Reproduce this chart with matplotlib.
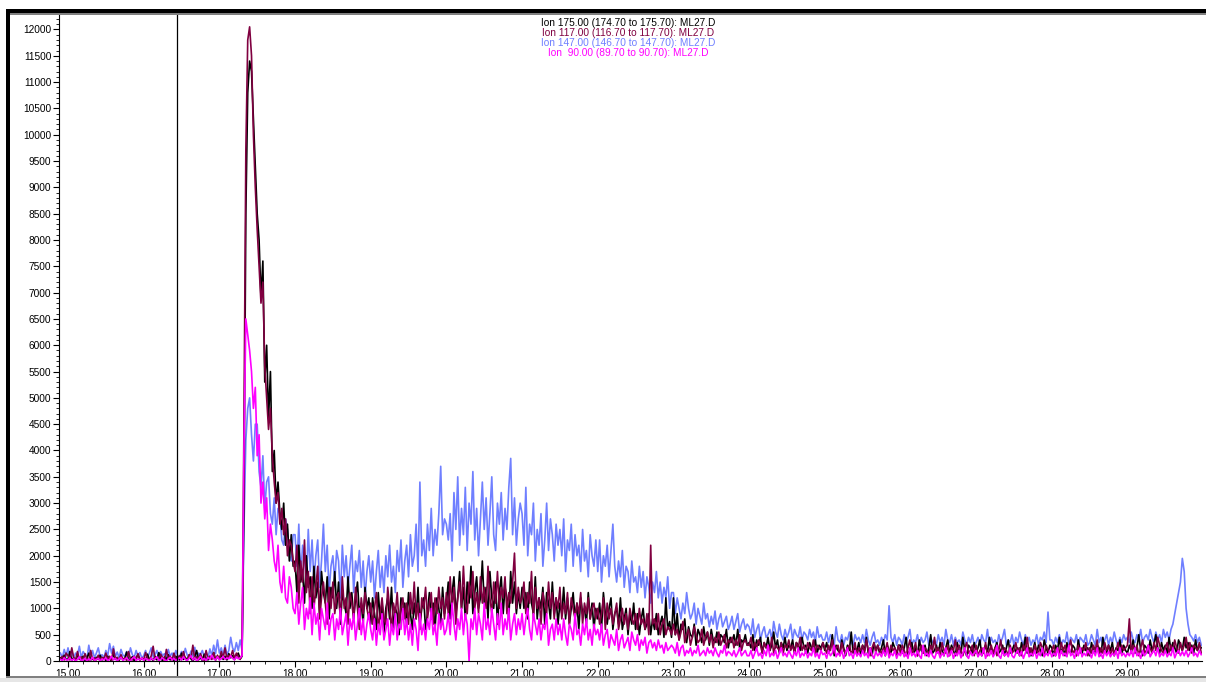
import matplotlib
matplotlib.use("Agg")
import matplotlib.pyplot as plt
import numpy as np
from matplotlib.patches import Rectangle
from matplotlib.ticker import MultipleLocator, FormatStrFormatter

plt.rcParams['font.family'] = ['Liberation Sans', 'DejaVu Sans']

# scan grid: first scan time and spacing (minutes)
scan_start = 14.90
scan_step = 0.025

# abundances, one row per minute (14.90-14.975 row first)
ion175 = [
    60, 20, 110, 30,
    30, 180, 10, 60, 0, 120, 40, 20, 90, 10, 50, 150, 20, 40, 10, 70, 30, 110, 20, 60, 10, 90, 40, 0, 140, 30, 60, 10, 100, 20, 50, 170, 10, 40, 80, 0, 60, 120, 30, 50,
    40, 10, 130, 30, 60, 0, 90, 20, 160, 40, 10, 80, 30, 120, 20, 50, 10, 90, 40, 20, 150, 30, 70, 10, 110, 40, 0, 80, 200, 30, 60, 10, 130, 50, 20, 90, 40, 160, 20, 70,
    50, 120, 30, 90, 20, 140, 60, 100, 30, 80, 150, 40, 90, 3000, 8500, 10800, 11400, 11200, 10300, 9400, 8500, 8000, 6900, 7600, 5300, 6000, 4600, 5500, 3600, 4000, 3000, 3400, 2800, 2500, 3000, 2200, 2600, 1900, 2400, 1800,
    1900, 1300, 2200, 1500, 1700, 1100, 2000, 1400, 1600, 1000, 1800, 1200, 1500, 900, 1700, 1300, 1100, 1600, 800, 1400, 1200, 1700, 1000, 1500, 700, 1300, 1100, 900, 1600, 1000, 1300, 800, 1200, 1500, 900, 1100, 700, 1400, 1000, 1200,
    700, 1200, 900, 600, 1300, 800, 1100, 500, 1000, 1200, 800, 1400, 600, 1000, 900, 500, 1200, 800, 1100, 700, 1300, 900, 600, 1100, 800, 1400, 700, 1000, 1200, 600, 900, 1300, 800, 1100, 600, 1200, 1000, 700, 1400, 900,
    1100, 1500, 800, 1300, 1600, 900, 1200, 1700, 1000, 1400, 800, 1500, 1100, 1800, 900, 1300, 1600, 1000, 1200, 1900, 1100, 1400, 800, 1700, 1200, 1000, 1500, 700, 1300, 1600, 900, 1400, 1200, 800, 1700, 1100, 1500, 900, 1300, 1000,
    1400, 1000, 1300, 800, 1500, 1100, 900, 1600, 800, 1200, 1000, 1400, 700, 1300, 1100, 800, 1500, 900, 1200, 700, 1100, 900, 1400, 800, 1200, 700, 1000, 1300, 800, 1100, 600, 1200, 900, 1000, 700, 1300, 800, 1100, 600, 1000,
    800, 1100, 600, 1300, 900, 700, 1000, 1200, 600, 900, 1000, 700, 1200, 600, 800, 1000, 500, 900, 700, 1100, 600, 900, 500, 800, 1000, 600, 700, 900, 500, 800, 600, 900, 500, 700, 850, 450, 1200, 600, 750, 450,
    1200, 500, 900, 400, 700, 600, 800, 350, 650, 500, 450, 700, 300, 600, 500, 350, 650, 400, 550, 300, 600, 400, 350, 550, 300, 500, 450, 350, 600, 250, 450, 350, 500, 300, 600, 250, 400, 350, 500, 300,
    350, 250, 500, 200, 400, 300, 450, 150, 350, 250, 450, 200, 300, 550, 250, 400, 150, 350, 250, 450, 200, 300, 250, 400, 150, 350, 300, 200, 450, 250, 300, 150, 350, 250, 200, 400, 150, 300, 250, 350,
    200, 350, 150, 250, 500, 100, 300, 200, 150, 400, 250, 100, 300, 200, 550, 150, 250, 200, 350, 100, 300, 200, 450, 150, 250, 100, 350, 200, 300, 150, 250, 400, 100, 300, 200, 150, 350, 250, 100, 300,
    300, 150, 250, 450, 100, 200, 350, 150, 250, 100, 400, 200, 150, 300, 100, 250, 500, 150, 200, 300, 150, 350, 200, 100, 250, 400, 150, 300, 200, 100, 350, 200, 150, 450, 200, 100, 300, 250, 150, 350,
    150, 250, 400, 100, 200, 300, 150, 450, 200, 100, 250, 350, 150, 200, 300, 100, 250, 400, 150, 200, 300, 150, 250, 100, 350, 200, 450, 150, 250, 100, 200, 350, 150, 300, 200, 100, 400, 250, 150, 300,
    250, 100, 300, 200, 450, 150, 250, 100, 350, 200, 150, 300, 250, 100, 400, 200, 150, 300, 200, 250, 100, 350, 200, 150, 300, 250, 100, 450, 200, 150, 300, 200, 350, 100, 250, 200, 400, 150, 300, 200,
    150, 300, 200, 400, 150, 250, 500, 200, 100, 300, 250, 150, 400, 200, 300, 500, 250, 150, 350, 200, 300, 150, 450, 200, 350, 250, 150, 400, 300, 200, 450, 250, 350, 200, 300, 150, 400, 200, 300, 250,
]

ion117 = [
    40, 90, 20, 150,
    100, 20, 250, 60, 10, 180, 30, 80, 20, 140, 40, 10, 200, 30, 60, 20, 110, 10, 70, 40, 150, 20, 90, 10, 230, 40, 70, 20, 120, 30, 60, 10, 180, 40, 20, 90, 30, 140, 10, 60,
    20, 160, 50, 10, 100, 280, 30, 70, 20, 130, 60, 10, 220, 40, 90, 20, 150, 30, 60, 100, 20, 180, 40, 10, 120, 60, 300, 30, 80, 20, 140, 50, 10, 200, 40, 90, 30, 160, 20, 110,
    30, 180, 60, 250, 40, 110, 80, 200, 50, 150, 90, 30, 120, 4500, 9700, 11800, 12050, 11500, 10000, 9000, 8200, 7500, 6800, 7200, 5600, 5000, 4400, 4800, 3900, 3400, 3000, 3200, 2600, 2900, 2400, 2700, 2000, 2300, 2200, 1900,
    1700, 2200, 1100, 1900, 1500, 2300, 1300, 1700, 900, 1600, 1000, 1400, 1800, 800, 1200, 1500, 1100, 700, 1400, 1000, 1500, 900, 1200, 1300, 800, 1600, 1000, 1200, 700, 1300, 1100, 800, 1400, 1000, 600, 1200, 900, 1300, 1000, 800,
    1100, 700, 1000, 1300, 600, 900, 1200, 800, 700, 1400, 1000, 600, 1100, 900, 1300, 700, 1000, 1200, 800, 1100, 700, 1300, 900, 1500, 800, 1100, 600, 1200, 1000, 1400, 800, 1100, 1300, 700, 1200, 900, 1400, 1000, 1200, 800,
    1300, 900, 1600, 1000, 1400, 700, 1200, 1500, 1000, 1800, 1100, 900, 1500, 1200, 1700, 1000, 1300, 900, 1600, 1100, 1400, 1000, 1800, 1200, 900, 1500, 1100, 1700, 1000, 1400, 1200, 1600, 900, 1300, 1100, 1500, 2050, 1000, 1400, 1100,
    1200, 1500, 900, 1300, 1100, 1700, 800, 1400, 1000, 1200, 700, 1300, 1100, 900, 1500, 1000, 1300, 800, 1200, 1000, 1400, 800, 1100, 900, 1300, 700, 1200, 1000, 800, 1100, 900, 1300, 700, 1100, 900, 1200, 800, 1000, 1100, 800,
    1000, 700, 900, 1200, 600, 1100, 800, 1000, 700, 900, 1100, 600, 800, 1000, 700, 900, 600, 1000, 800, 700, 900, 600, 1000, 700, 800, 600, 900, 500, 2200, 700, 800, 600, 900, 500, 700, 800, 500, 650, 600, 500,
    700, 500, 600, 400, 550, 750, 350, 500, 600, 300, 450, 650, 500, 350, 400, 600, 300, 450, 550, 350, 500, 250, 450, 350, 550, 300, 400, 500, 250, 400, 350, 450, 250, 400, 300, 500, 200, 350, 400, 300,
    300, 450, 200, 350, 250, 400, 300, 150, 350, 250, 300, 200, 450, 150, 300, 250, 200, 350, 150, 300, 250, 400, 200, 300, 150, 350, 250, 450, 200, 300, 150, 350, 250, 200, 400, 150, 300, 250, 200, 350,
    250, 150, 300, 200, 400, 150, 250, 300, 100, 350, 200, 150, 250, 300, 150, 200, 350, 100, 250, 200, 300, 150, 400, 200, 100, 250, 350, 150, 300, 200, 150, 250, 200, 350, 100, 300, 200, 250, 150, 300,
    150, 300, 200, 100, 250, 400, 150, 200, 350, 100, 200, 300, 150, 250, 200, 100, 300, 200, 450, 150, 250, 100, 350, 200, 150, 300, 100, 250, 200, 400, 150, 300, 200, 100, 250, 350, 150, 200, 300, 100,
    300, 100, 200, 250, 150, 350, 100, 200, 300, 150, 250, 100, 200, 400, 150, 250, 200, 100, 300, 150, 200, 350, 150, 250, 100, 300, 200, 450, 150, 250, 100, 300, 200, 150, 350, 250, 100, 300, 200, 150,
    200, 300, 100, 250, 150, 350, 200, 300, 100, 250, 400, 150, 200, 100, 300, 150, 250, 200, 350, 100, 250, 150, 300, 200, 400, 100, 250, 150, 350, 200, 300, 100, 250, 150, 200, 350, 150, 300, 200, 250,
    300, 800, 150, 300, 200, 300, 100, 250, 400, 150, 200, 300, 250, 150, 350, 200, 450, 300, 200, 150, 250, 350, 150, 300, 200, 400, 250, 150, 350, 200, 300, 450, 200, 350, 150, 300, 250, 200, 350, 150,
]

ion147 = [
    150, 60, 220, 90,
    250, 80, 200, 50, 150, 100, 280, 60, 180, 120, 50, 300, 90, 200, 60, 150, 250, 80, 120, 60, 200, 100, 330, 150, 280, 80, 170, 60, 220, 110, 90, 180, 60, 250, 120, 70, 200, 90, 160, 60,
    100, 200, 60, 150, 250, 80, 120, 200, 50, 180, 100, 140, 60, 220, 90, 150, 60, 200, 100, 80, 180, 60, 240, 110, 70, 190, 90, 260, 60, 150, 120, 200, 80, 170, 60, 230, 100, 300, 140, 400,
    150, 250, 100, 300, 120, 200, 450, 250, 180, 350, 200, 400, 200, 2500, 4200, 4800, 5000, 4300, 3800, 4500, 4500, 3600, 3300, 3900, 2900, 3400, 3500, 2800, 2600, 3100, 2400, 2900, 2800, 2300, 2200, 2700, 2500, 2000, 1900, 2400,
    2400, 1800, 2600, 1600, 2200, 2000, 1500, 2500, 1700, 2300, 1500, 2000, 2300, 1400, 1900, 2600, 1700, 2200, 1300, 1800, 2000, 1500, 2100, 1900, 1200, 2200, 1600, 2000, 1400, 1800, 2200, 1300, 1900, 1700, 2100, 1400, 1900, 1200, 1700, 2000,
    1500, 1900, 1200, 1700, 2100, 1400, 1800, 1300, 2000, 1600, 2200, 1500, 1800, 1300, 2100, 1700, 2300, 1400, 1900, 2200, 1600, 2400, 1800, 2000, 2600, 1700, 3400, 2000, 2300, 1800, 2600, 2100, 2900, 2000, 2500, 2200, 2800, 3700, 2400, 2700,
    2600, 2300, 2800, 1900, 3200, 2500, 3500, 2200, 2900, 2400, 3300, 2100, 3000, 2600, 3600, 2300, 2900, 2000, 2700, 3400, 2500, 3100, 2200, 2800, 3500, 2400, 2100, 3000, 2600, 3200, 2300, 2900, 2500, 3300, 3850, 2400, 3100, 2200, 2700, 3000,
    2800, 2200, 3300, 2000, 2600, 2400, 3000, 1900, 2500, 2200, 2800, 1800, 2300, 3000, 2100, 2700, 2400, 1900, 2600, 2200, 2500, 2000, 2700, 1700, 2300, 2100, 2600, 1800, 2400, 2000, 2200, 1700, 2500, 1900, 2100, 1600, 2400, 2000, 1800, 2300,
    1700, 2300, 1500, 2000, 1800, 2200, 1600, 2100, 2600, 1800, 1500, 1900, 1600, 2100, 1400, 1800, 1700, 1300, 1900, 1500, 1600, 1300, 1800, 1400, 1700, 1200, 1600, 1400, 1100, 1500, 1300, 1700, 1200, 1500, 1100, 1400, 1200, 1600, 1000, 1300,
    1300, 900, 1200, 1000, 800, 1100, 900, 1300, 1000, 800, 900, 1100, 700, 1000, 850, 700, 1100, 800, 900, 650, 850, 700, 950, 600, 800, 900, 650, 750, 850, 600, 700, 850, 600, 750, 900, 550, 700, 800, 600, 700,
    650, 500, 800, 450, 600, 700, 400, 550, 650, 450, 500, 600, 400, 750, 550, 450, 700, 500, 400, 600, 450, 550, 700, 400, 600, 500, 450, 650, 400, 550, 500, 400, 600, 450, 550, 350, 650, 450, 500, 400,
    400, 550, 350, 500, 450, 300, 650, 400, 350, 500, 300, 450, 400, 550, 350, 300, 500, 400, 450, 350, 500, 350, 600, 400, 300, 450, 550, 350, 400, 300, 450, 350, 500, 400, 1050, 450, 350, 500, 300, 450,
    400, 300, 500, 350, 450, 600, 300, 400, 350, 500, 300, 450, 350, 400, 550, 300, 450, 350, 400, 300, 500, 350, 450, 300, 600, 400, 350, 500, 300, 450, 350, 400, 300, 550, 400, 300, 450, 350, 500, 300,
    350, 450, 300, 500, 400, 350, 600, 300, 450, 350, 400, 300, 500, 350, 450, 600, 300, 400, 350, 500, 300, 450, 350, 550, 400, 300, 500, 350, 450, 300, 400, 350, 500, 300, 450, 400, 550, 350, 930, 400,
    400, 300, 450, 350, 500, 300, 400, 350, 550, 300, 450, 400, 350, 500, 300, 450, 400, 350, 500, 300, 350, 500, 400, 300, 600, 350, 450, 300, 400, 500, 300, 450, 350, 550, 400, 300, 450, 350, 500, 400,
    450, 350, 550, 400, 350, 500, 400, 600, 350, 450, 500, 400, 600, 450, 350, 550, 400, 500, 350, 600, 450, 550, 400, 600, 700, 900, 1100, 1300, 1500, 1950, 1700, 1000, 700, 500, 450, 380, 500, 350, 450, 300,
]

ion90 = [
    30, 10, 60, 20,
    20, 60, 10, 40, 0, 30, 80, 10, 20, 50, 0, 40, 20, 70, 10, 30, 50, 0, 40, 20, 60, 10, 30, 90, 20, 50, 0, 40, 70, 10, 30, 60, 20, 0, 50, 80, 10, 40, 20, 60,
    10, 50, 30, 0, 60, 20, 40, 80, 10, 30, 60, 20, 0, 40, 70, 20, 50, 10, 30, 60, 20, 80, 30, 10, 50, 100, 20, 60, 0, 40, 90, 20, 50, 10, 70, 30, 110, 40, 20, 80,
    20, 40, 90, 30, 60, 40, 100, 50, 20, 80, 40, 60, 100, 4000, 6500, 6200, 5900, 5500, 4800, 5200, 3900, 4300, 3000, 3400, 2700, 3100, 2100, 2600, 2300, 1900, 1700, 2200, 1500, 1300, 1800, 1200, 1100, 1600, 1400, 1000,
    900, 1300, 700, 1100, 1400, 600, 1000, 800, 1200, 500, 1100, 700, 900, 400, 1000, 800, 600, 1100, 500, 800, 900, 400, 800, 600, 1000, 500, 700, 900, 300, 800, 600, 900, 400, 700, 1000, 500, 800, 400, 700, 900,
    600, 400, 800, 300, 700, 500, 900, 400, 600, 800, 300, 700, 500, 900, 400, 700, 600, 1000, 500, 800, 400, 700, 300, 800, 600, 200, 900, 500, 700, 400, 800, 600, 1000, 500, 700, 300, 900, 600, 800, 500,
    600, 900, 500, 1100, 700, 400, 800, 600, 1000, 500, 900, 700, 0, 800, 600, 1000, 500, 900, 700, 400, 1100, 600, 800, 500, 1000, 700, 400, 900, 600, 1100, 500, 800, 600, 1000, 400, 700, 900, 500, 800, 600,
    900, 500, 800, 1000, 600, 400, 900, 700, 500, 800, 400, 700, 600, 900, 300, 600, 700, 400, 800, 500, 700, 400, 800, 500, 300, 700, 600, 400, 900, 500, 600, 300, 700, 500, 800, 400, 600, 300, 700, 500,
    600, 400, 700, 300, 500, 600, 250, 500, 400, 300, 600, 200, 400, 500, 250, 350, 450, 200, 550, 400, 300, 500, 200, 400, 300, 450, 150, 350, 400, 250, 350, 200, 400, 250, 300, 150, 350, 200, 250, 300,
    250, 150, 350, 100, 250, 300, 100, 200, 150, 250, 100, 200, 150, 300, 100, 150, 200, 100, 250, 150, 200, 100, 250, 150, 80, 200, 150, 300, 100, 180, 150, 100, 200, 80, 150, 250, 100, 150, 200, 100,
    100, 200, 50, 150, 250, 100, 150, 50, 200, 100, 300, 80, 150, 100, 200, 50, 150, 250, 100, 150, 80, 200, 120, 50, 180, 100, 250, 70, 150, 100, 200, 60, 150, 100, 250, 80, 150, 50, 200, 120,
    150, 50, 200, 100, 150, 300, 80, 150, 100, 200, 50, 150, 250, 100, 150, 50, 200, 100, 150, 80, 200, 100, 150, 60, 250, 120, 50, 180, 100, 150, 80, 200, 100, 250, 60, 150, 100, 200, 50, 150,
    100, 200, 80, 150, 50, 250, 100, 150, 80, 200, 100, 50, 300, 100, 150, 80, 200, 100, 50, 150, 180, 60, 150, 100, 250, 80, 120, 200, 50, 150, 100, 200, 60, 150, 250, 100, 50, 180, 100, 150,
    200, 80, 150, 100, 250, 50, 150, 100, 200, 80, 150, 300, 100, 50, 200, 100, 150, 80, 250, 100, 60, 150, 200, 100, 180, 50, 150, 250, 80, 150, 100, 200, 50, 150, 100, 250, 80, 150, 100, 200,
    80, 150, 100, 250, 50, 200, 100, 150, 80, 300, 100, 150, 50, 200, 100, 250, 80, 150, 100, 200, 150, 60, 200, 100, 250, 80, 150, 50, 200, 100, 180, 80, 150, 100, 200, 50, 250, 100, 150, 80,
    150, 100, 200, 80, 250, 100, 150, 50, 200, 100, 150, 300, 80, 150, 200, 100, 250, 80, 150, 100, 200, 80, 150, 100, 250, 60, 150, 200, 100, 180, 100, 200, 80, 150, 250, 100, 150, 80, 200, 120,
]

labels = [
    "Ion 175.00 (174.70 to 175.70): ML27.D",
    "Ion 117.00 (116.70 to 117.70): ML27.D",
    "Ion 147.00 (146.70 to 147.70): ML27.D",
    "Ion  90.00 (89.70 to 90.70): ML27.D",
]
colors = ["#000000", "#800040", "#6f7fff", "#ff00ff"]
marker_time = 16.44

W, H = 1206, 682
fig = plt.figure(figsize=(W / 100, H / 100), dpi=100)
fig.patch.set_facecolor("white")

# axes placed in pixel terms: y-axis at x=59, x-axis at y=661
ax = fig.add_axes([59 / W, (H - 661) / H, (1202 - 59) / W, (661 - 14) / H])

series = [ion175, ion117, ion147, ion90]
# draw order: blue behind, magenta in front
for idx in [2, 0, 1, 3]:
    vals = series[idx]
    t = scan_start + scan_step * np.arange(len(vals))
    ax.plot(t, vals, color=colors[idx], lw=1.2)

ax.set_xlim(14.881, 29.985)
ax.set_ylim(0, 12294)

ax.axvline(marker_time, ymin=-0.022, ymax=1, color="black", lw=0.9, clip_on=False)

for s in ["top", "right"]:
    ax.spines[s].set_visible(False)
for s in ["left", "bottom"]:
    ax.spines[s].set_linewidth(0.8)

ax.xaxis.set_major_locator(MultipleLocator(1))
ax.xaxis.set_minor_locator(MultipleLocator(0.2))
ax.xaxis.set_major_formatter(FormatStrFormatter("%.2f"))
ax.yaxis.set_major_locator(MultipleLocator(500))
ax.yaxis.set_minor_locator(MultipleLocator(100))
ax.tick_params(axis="both", which="major", labelsize=7.3, length=4, width=0.8, pad=1.5)
ax.tick_params(axis="both", which="minor", length=2, width=0.6)

for txt, c, k in zip(labels, colors, range(4)):
    fig.text(628 / W, 1 - (23 + 10 * k) / H, txt, color=c, fontsize=7.3,
             ha="center", va="center")

# window frame
def frame(x, y, w, h, color):
    fig.patches.append(Rectangle((x / W, 1 - (y + h) / H), w / W, h / H,
                                 transform=fig.transFigure, facecolor=color,
                                 edgecolor="none", zorder=5))

frame(6, 9, W - 6, 4, "black")
frame(6, 13, W - 6, 1.5, "#808080")
frame(6, 9, 4, 668, "black")
frame(6, 676, W - 6, 1.5, "#808080")
frame(0, 677.5, W, 4.5, "#e6e6e6")

fig.savefig("out.png", dpi=100)
